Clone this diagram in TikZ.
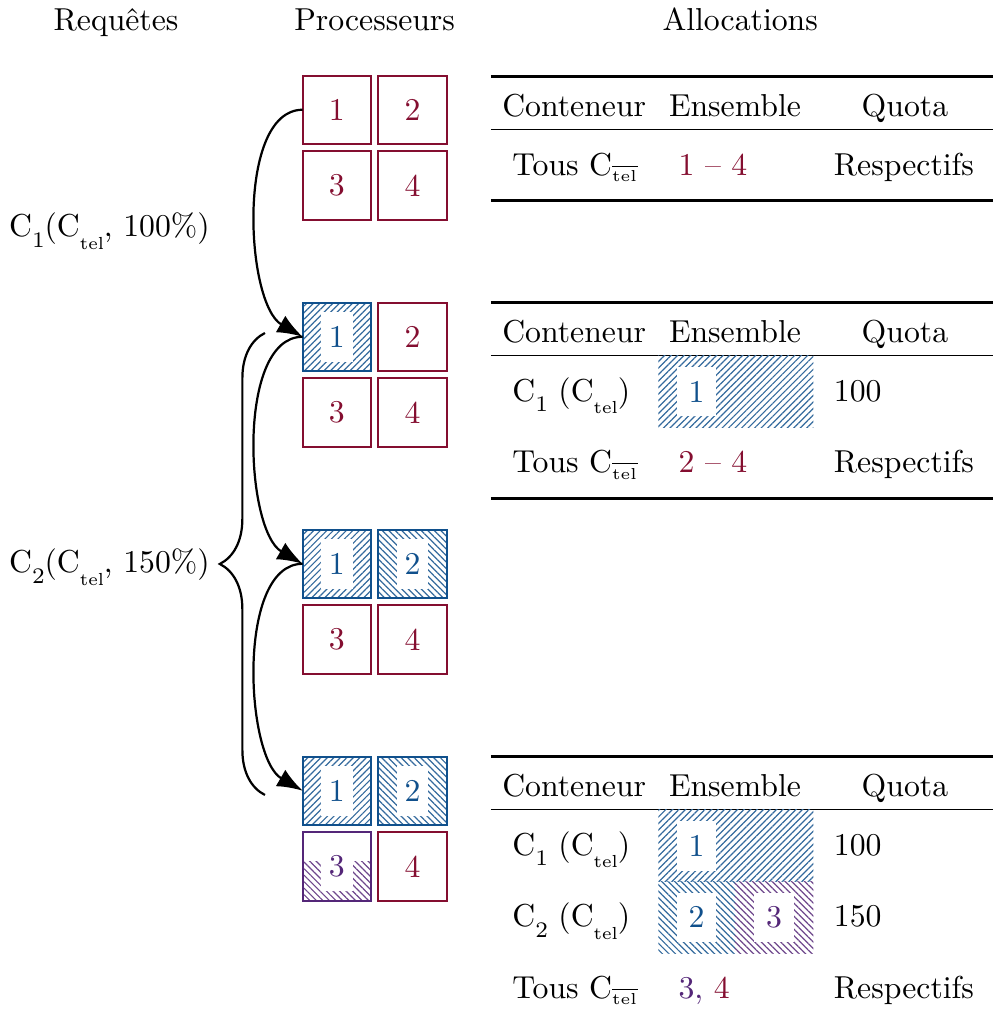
\documentclass[tikz,border=0pt]{standalone}
\usepackage{tikz}
\usetikzlibrary{positioning,calc,arrows.meta,patterns.meta,decorations.pathreplacing}
\tikzset{>=stealth}

\definecolor{cred}{RGB}{132,14,48}
\definecolor{cblue}{RGB}{16,80,140}
\definecolor{cpurple}{RGB}{84,38,120}

% low subscripts
\newcommand\subnum[1]{\raisebox{-3.3pt}{\scriptsize #1}}
\newcommand\subtel{\raisebox{-3.9pt}{\fontsize{5.5}{6}\selectfont tel}}
\newcommand\subnottel{$_{\scriptscriptstyle\overline{\mathrm{tel}}}$}

\tikzset{
  proc/.style={draw,semithick,minimum size=0.757cm,inner sep=0pt,outer sep=0pt},
  redproc/.style={proc,draw=cred,text=cred},
  blueproc/.style={proc,draw=cblue,pattern color=cblue!85},
  hatchne/.style={pattern={Lines[angle=45,distance=1.45pt,line width=0.38pt]}},
  hatchnw/.style={pattern={Lines[angle=-45,distance=1.45pt,line width=0.38pt]}},
  numbox/.style={fill=white,inner sep=0pt,minimum width=0.35cm,minimum height=0.55cm},
  tnumbox/.style={numbox,minimum width=0.44cm},
  cell/.style={anchor=base west,inner sep=0pt},
  head/.style={anchor=base,inner sep=0pt},
  req/.style={-{Latex[length=8pt,width=6pt]},line width=0.7pt,out=180,in=150,looseness=0.75},
  heavyrule/.style={line width=0.8pt},
  lightrule/.style={line width=0.5pt},
}

\begin{document}
\begin{tikzpicture}
\useasboundingbox (0,0) rectangle (11,-11.3);

% Column titles
\node[head] (treq) at (1.285,-0.343) {Requêtes};
\node[head] (tproc) at (4.15,-0.343) {Processeurs};
\node[head] (talloc) at (8.2,-0.343) {Allocations};

% Processors, initial state
\node[redproc] (p11) at (3.731,-1.216) {1};
\node[redproc] (p12) at (4.570,-1.216) {2};
\node[redproc] (p13) at (3.731,-2.055) {3};
\node[redproc] (p14) at (4.570,-2.055) {4};

% After C1
\node[blueproc,hatchne] (p21) at (3.731,-3.731) {};
\node[numbox,text=cblue] (n21) at (p21) {1};
\node[redproc] (p22) at (4.570,-3.731) {2};
\node[redproc] (p23) at (3.731,-4.570) {3};
\node[redproc] (p24) at (4.570,-4.570) {4};

% C2, first step
\node[blueproc,hatchne] (p31) at (3.731,-6.246) {};
\node[numbox,text=cblue] (n31) at (p31) {1};
\node[blueproc,hatchnw] (p32) at (4.570,-6.246) {};
\node[numbox,text=cblue] (n32) at (p32) {2};
\node[redproc] (p33) at (3.731,-7.085) {3};
\node[redproc] (p34) at (4.570,-7.085) {4};

% C2, second step
\node[blueproc,hatchne] (p41) at (3.731,-8.760) {};
\node[numbox,text=cblue] (n41) at (p41) {1};
\node[blueproc,hatchnw] (p42) at (4.570,-8.760) {};
\node[numbox,text=cblue] (n42) at (p42) {2};
\node[proc,draw=cpurple] (p43) at (3.731,-9.599) {};
\path[hatchnw,pattern color=cpurple!85] ($(p43.west)+(0,0.055)$) rectangle (p43.south east);
\node[numbox,text=cpurple] (n43) at (p43) {3};
\draw[semithick,cpurple] (p43.south west) rectangle (p43.north east);
\node[redproc] (p44) at (4.570,-9.599) {4};

% Requests
\draw[req] (p11.west) to (p21.west);
\draw[req] (p21.west) to (p31.west);
\draw[req] (p31.west) to (p41.west);

\node[anchor=base east,inner sep=0pt] (c1) at (2.33,-2.622) {C\subnum{1}(C\subtel, 100\%)};

\coordinate (bbot) at (2.935,-8.807);
\coordinate (btop) at (2.935,-3.689);
\draw[line width=0.7pt,decorate,decoration={brace,amplitude=0.5cm}] (bbot) -- (btop);
\node[anchor=base east,inner sep=0pt] (c2) at (2.33,-6.344) {C\subnum{2}(C\subtel, 150\%)};

% Allocations, initial state
\begin{scope}[yshift=-0.850cm]
\draw[heavyrule] (5.439,0) -- (11,0);
\node[head] (a1c) at (6.361,-0.443) {Conteneur};
\node[head] (a1e) at (8.142,-0.443) {Ensemble};
\node[head] (a1q) at (10.025,-0.443) {Quota};
\draw[lightrule] (5.439,-0.587) -- (11,-0.587);
\node[cell] (a1r1) at (5.669,-1.091) {Tous C\subnottel};
\node[cell,text=cred] (a1r2) at (7.511,-1.091) {1 -- 4};
\node[cell] (a1r3) at (9.231,-1.091) {Respectifs};
\draw[heavyrule] (5.439,-1.374) -- (11,-1.374);
\end{scope}

% Allocations after C1
\begin{scope}[yshift=-3.353cm]
\draw[heavyrule] (5.439,0) -- (11,0);
\node[head] (a2c) at (6.361,-0.443) {Conteneur};
\node[head] (a2e) at (8.142,-0.443) {Ensemble};
\node[head] (a2q) at (10.025,-0.443) {Quota};
\draw[lightrule] (5.439,-0.587) -- (11,-0.587);
\path[hatchne,pattern color=cblue!85] (7.293,-0.587) rectangle (9.010,-1.385);
\node[tnumbox,text=cblue] (a2n1) at (7.716,-0.986) {1};
\node[cell] (a2r1) at (5.669,-1.091) {C\subnum{1} (C\subtel)};
\node[cell] (a2q1) at (9.231,-1.091) {100};
\node[cell] (a2r2) at (5.669,-1.885) {Tous C\subnottel};
\node[cell,text=cred] (a2e2) at (7.511,-1.885) {2 -- 4};
\node[cell] (a2q2) at (9.231,-1.885) {Respectifs};
\draw[heavyrule] (5.439,-2.167) -- (11,-2.167);
\end{scope}

% Allocations after C2
\begin{scope}[yshift=-8.383cm]
\draw[heavyrule] (5.439,0) -- (11,0);
\node[head] (a3c) at (6.361,-0.443) {Conteneur};
\node[head] (a3e) at (8.142,-0.443) {Ensemble};
\node[head] (a3q) at (10.025,-0.443) {Quota};
\draw[lightrule] (5.439,-0.587) -- (11,-0.587);
\path[hatchne,pattern color=cblue!85] (7.293,-0.587) rectangle (9.010,-1.385);
\path[hatchnw,pattern color=cblue!85] (7.293,-1.385) rectangle (8.142,-2.178);
\path[hatchnw,pattern color=cpurple!85] (8.142,-1.385) rectangle (9.010,-2.178);
\node[tnumbox,text=cblue] (a3n1) at (7.716,-0.986) {1};
\node[tnumbox,text=cblue] (a3n2) at (7.716,-1.780) {2};
\node[tnumbox,text=cpurple] (a3n3) at (8.574,-1.780) {3};
\node[cell] (a3r1) at (5.669,-1.091) {C\subnum{1} (C\subtel)};
\node[cell] (a3q1) at (9.231,-1.091) {100};
\node[cell] (a3r2) at (5.669,-1.885) {C\subnum{2} (C\subtel)};
\node[cell] (a3q2) at (9.231,-1.885) {150};
\node[cell] (a3r3) at (5.669,-2.676) {Tous C\subnottel};
\node[cell] (a3e3) at (7.511,-2.676) {\textcolor{cpurple}{3,} \textcolor{cred}{4}};
\node[cell] (a3q3) at (9.231,-2.676) {Respectifs};
\end{scope}

\end{tikzpicture}
\end{document}
